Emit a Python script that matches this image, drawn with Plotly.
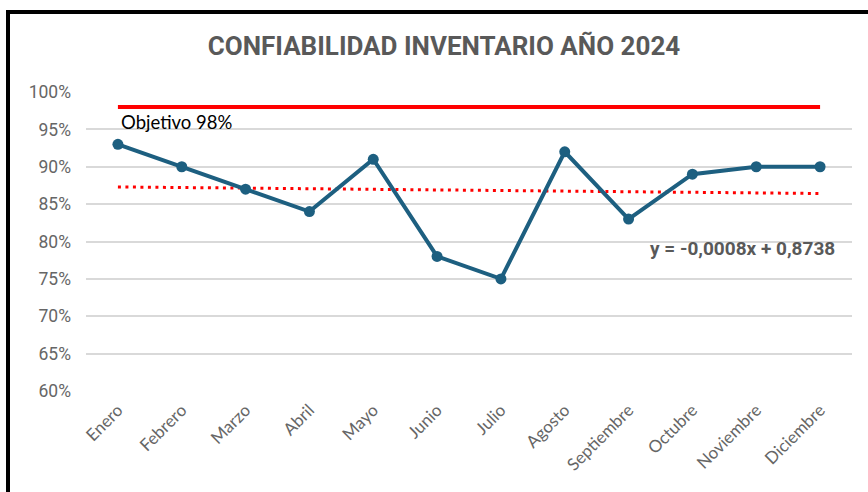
import plotly.graph_objects as go

months = ["Enero", "Febrero", "Marzo", "Abril", "Mayo", "Junio", "Julio",
          "Agosto", "Septiembre", "Octubre", "Noviembre", "Diciembre"]
confiabilidad = [0.93, 0.90, 0.87, 0.84, 0.91, 0.78, 0.75, 0.92, 0.83, 0.89, 0.90, 0.90]
objetivo = [0.98] * 12
trend_slope = -0.0008
trend_intercept = 0.8738
trend = [trend_intercept + trend_slope * (i + 1) for i in range(len(months))]
y_ticks = [0.60, 0.65, 0.70, 0.75, 0.80, 0.85, 0.90, 0.95, 1.00]

W, H = 868, 492
ML, MR, MT, MB = 86, 16, 92, 101

fig = go.Figure()
fig.add_trace(go.Scatter(x=months, y=objetivo, mode="lines",
                         line=dict(color="#FF0000", width=4), hoverinfo="skip"))
fig.add_trace(go.Scatter(x=months, y=trend, mode="lines",
                         line=dict(color="#FF0000", width=3, dash="3px,4.5px"), hoverinfo="skip"))
fig.add_trace(go.Scatter(x=months, y=confiabilidad, mode="lines+markers",
                         line=dict(color="#1D5F80", width=4),
                         marker=dict(color="#1D5F80", size=11)))

def px2paper_x(px):
    return (px - ML) / (W - ML - MR)

def px2paper_y(py):
    return (H - MB - py) / (H - MT - MB)

fig.add_shape(type="rect", xref="paper", yref="paper",
              x0=px2paper_x(8), x1=px2paper_x(900), y0=px2paper_y(12), y1=px2paper_y(520),
              line=dict(color="black", width=4), fillcolor="rgba(0,0,0,0)", layer="above")

fig.add_annotation(x=months[0], y=objetivo[0], xref="x", yref="y", text="Objetivo 98%",
                   showarrow=False, xanchor="left", yanchor="top", xshift=1, yshift=-2,
                   font=dict(family="Lato", size=18.5, color="#000000"))
fig.add_annotation(x=px2paper_x(837), y=px2paper_y(248), xref="paper", yref="paper",
                   text="<b>y = -0,0008x + 0,8738</b>", showarrow=False,
                   xanchor="right", yanchor="middle",
                   font=dict(family="Roboto", size=19, color="#595959"))

fig.update_layout(
    width=W, height=H,
    margin=dict(l=ML, r=MR, t=MT, b=MB),
    paper_bgcolor="white", plot_bgcolor="white",
    showlegend=False,
    title=dict(text="<b>CONFIABILIDAD INVENTARIO AÑO 2024</b>", x=px2paper_x(444), xref="paper",
               xanchor="center", y=1 - 46 / H, yref="container", yanchor="middle",
               font=dict(family="Roboto", size=26, color="#595959")),
)
fig.update_xaxes(showgrid=False, showline=False, zeroline=False, tickangle=-45,
                 ticks="", automargin=False, range=[-0.5, len(months) - 0.5],
                 ticklabelstandoff=5,
                 tickfont=dict(family="Lato", size=17, color="#666666"))
fig.update_yaxes(range=[0.6, 1.0], tickvals=y_ticks, tickformat=".0%",
                 showgrid=True, gridcolor="#D9D9D9", gridwidth=1.5,
                 zeroline=False, showline=False, ticks="", automargin=False,
                 ticklabelstandoff=14,
                 tickfont=dict(family="Roboto", size=17.5, color="#666666"))

fig.write_html("out.html", config={"displayModeBar": False},
               post_script="document.body.style.margin='0px';document.body.style.overflow='hidden';")
